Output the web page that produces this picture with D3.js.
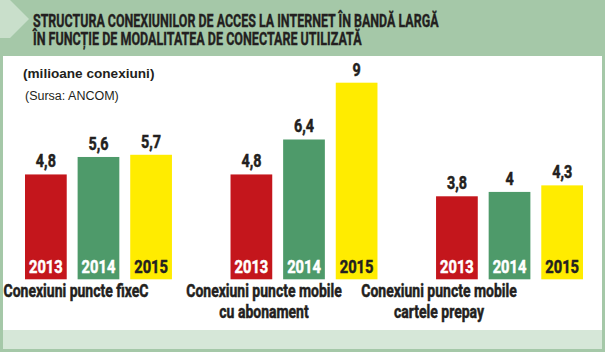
<!DOCTYPE html>
<html>
<head>
<meta charset="utf-8">
<script src="https://cdn.jsdelivr.net/npm/d3@7"></script>
<style>
  html, body { margin: 0; padding: 0; background: #fff; }
  svg { display: block; }
</style>
</head>
<body>
<div id="chart"></div>
<script>
// data
const years = ['2013', '2014', '2015']
const categories = ['fixe', 'abonament', 'prepay']
const categoryLabels = [
  ['Conexiuni puncte fixeC'],
  ['Conexiuni puncte mobile', 'cu abonament'],
  ['Conexiuni puncte mobile', 'cartele prepay'],
]
const fixeValues = [4.8, 5.6, 5.7]
const abonamentValues = [4.8, 6.4, 9]
const prepayValues = [3.8, 4, 4.3]

const titleLines = [
  'STRUCTURA CONEXIUNILOR DE ACCES LA INTERNET ÎN BANDĂ LARGĂ',
  'ÎN FUNCȚIE DE MODALITATEA DE CONECTARE UTILIZATĂ',
]
const unitLabel = '(milioane conexiuni)'
const sourceLabel = '(Sursa: ANCOM)'

const seriesByCategory = [fixeValues, abonamentValues, prepayValues]

const width = 605
const height = 352
const font = 'Roboto, "Liberation Sans", sans-serif'
const ink = '#231f20'
const barColors = d3.scaleOrdinal(years, ['#c4161c', '#4e9a6a', '#ffec00'])
const yearTextColors = d3.scaleOrdinal(years, ['#ffffff', '#ffffff', ink])

// no condensed face is installed, so squeeze the glyphs horizontally
const condense = (sel, sx, fx, fy) =>
  sel.attr('transform', (d, i) => `translate(${fx(d, i)},${fy(d, i)}) scale(${sx},1)`)

// heavier look, like the print's condensed black face
const heavy = (sel, color, w = 0.5) =>
  sel.attr('fill', color).attr('stroke', color).attr('stroke-width', w)

const svg = d3
  .select('#chart')
  .append('svg')
  .attr('width', width)
  .attr('height', height)

// frame
svg.append('rect').attr('width', width).attr('height', height).attr('fill', '#a5c8a8')
svg.append('rect').attr('x', 3).attr('y', 56).attr('width', 599).attr('height', 293).attr('fill', '#d6e7d8')
svg.append('rect').attr('x', 3).attr('y', 56).attr('width', 599).attr('height', 274).attr('fill', '#ffffff')
svg
  .append('polygon')
  .attr('points', '0,0 10,0 29,19 10,38 0,38')
  .attr('fill', '#c9dfcb')

// title, squeezed to the printed line widths
const titleWidths = [406, 329]
svg
  .append('g')
  .selectAll('text')
  .data(titleLines)
  .join('text')
  .attr('font-family', font)
  .attr('font-weight', 'bold')
  .attr('font-size', 19)
  .call(heavy, ink, 0.4)
  .text(d => d)
  .each(function (d, i) {
    const sx = titleWidths[i] / this.getComputedTextLength()
    d3.select(this).attr('transform', `translate(33,${27 + i * 18}) scale(${sx},1)`)
  })

svg
  .append('text')
  .attr('x', 23)
  .attr('y', 78)
  .attr('font-family', '"Liberation Sans", Arial, sans-serif')
  .attr('font-weight', 'bold')
  .attr('font-size', 13.6)
  .attr('fill', ink)
  .text(unitLabel)

svg
  .append('text')
  .attr('x', 25)
  .attr('y', 100)
  .attr('font-family', '"Liberation Sans", Arial, sans-serif')
  .attr('font-size', 12.5)
  .attr('fill', ink)
  .text(sourceLabel)

// scales
const x0 = d3.scaleBand().domain(categories).range([25, 583]).paddingInner(0.285)
const x1 = d3.scaleBand().domain(years).range([0, x0.bandwidth()]).paddingInner(0.207)
const y = d3.scaleLinear().domain([0, 9]).range([279.3, 82.7])

const fmt = v => String(v).replace('.', ',')

const groups = svg
  .append('g')
  .selectAll('g')
  .data(categories)
  .join('g')
  .attr('transform', d => `translate(${x0(d)},0)`)

const bars = groups
  .selectAll('g')
  .data((d, i) => years.map((yr, j) => ({ year: yr, value: seriesByCategory[i][j] })))
  .join('g')

bars
  .append('rect')
  .attr('x', d => x1(d.year))
  .attr('y', d => y(d.value))
  .attr('width', x1.bandwidth())
  .attr('height', d => y(0) - y(d.value))
  .attr('fill', d => barColors(d.year))

bars
  .append('text')
  .call(condense, 0.82, d => x1(d.year) + x1.bandwidth() / 2, d => y(d.value) - 7)
  .attr('text-anchor', 'middle')
  .attr('font-family', font)
  .attr('font-weight', 'bold')
  .attr('font-size', 17.5)
  .call(heavy, ink)
  .text(d => fmt(d.value))

bars
  .append('text')
  .call(condense, 0.84, d => x1(d.year) + x1.bandwidth() / 2, () => y(0) - 6.6)
  .attr('text-anchor', 'middle')
  .attr('font-family', font)
  .attr('font-weight', 'bold')
  .attr('font-size', 17.5)
  .each(function (d) { d3.select(this).call(heavy, yearTextColors(d.year)) })
  .text(d => d.year)

// category labels (set slightly left of each group, as in the print layout)
const labelCenters = [76, 264, 439]
const labelLines = categoryLabels.flatMap((lines, i) =>
  lines.map((text, j) => ({ text, cx: labelCenters[i], line: j })),
)
svg
  .append('g')
  .selectAll('text')
  .data(labelLines)
  .join('text')
  .call(condense, 0.8, d => d.cx, d => 297 + d.line * 21)
  .attr('text-anchor', 'middle')
  .attr('font-family', font)
  .attr('font-weight', 'bold')
  .attr('font-size', 17.5)
  .call(heavy, ink)
  .text(d => d.text)
</script>
</body>
</html>
